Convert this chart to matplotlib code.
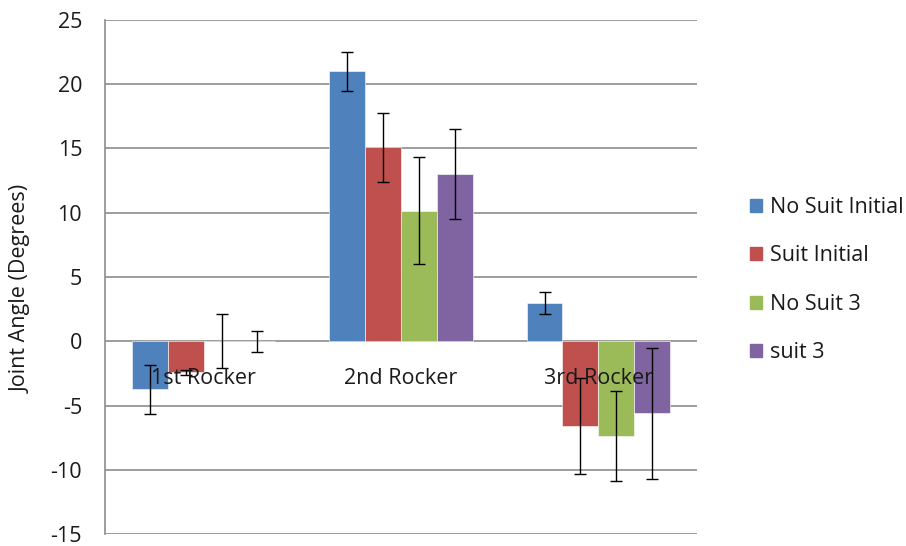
import matplotlib
matplotlib.use("Agg")
import matplotlib.pyplot as plt
import numpy as np

categories = ["1st Rocker", "2nd Rocker", "3rd Rocker"]
series_names = ["No Suit Initial", "Suit Initial", "No Suit 3", "suit 3"]
values = {
    "No Suit Initial": [-3.75, 21.0, 2.95],
    "Suit Initial": [-2.4, 15.1, -6.6],
    "No Suit 3": [0.0, 10.15, -7.35],
    "suit 3": [0.0, 13.0, -5.6],
}
errors = {
    "No Suit Initial": [1.9, 1.5, 0.85],
    "Suit Initial": [0.2, 2.7, 3.75],
    "No Suit 3": [2.1, 4.15, 3.5],
    "suit 3": [0.8, 3.5, 5.1],
}
colors = ["#4F81BD", "#C0504D", "#9BBB59", "#8064A2"]
y_ticks = [-15, -10, -5, 0, 5, 10, 15, 20, 25]
y_label = "Joint Angle (Degrees)"

plt.rcParams['font.family'] = ['Open Sans', 'DejaVu Sans']
FS = 15.5
TXT = "#1a1a1a"

fig = plt.figure(figsize=(9.06, 5.46), dpi=100)
ax = fig.add_axes([105/906, 1-534/546, (697-105)/906, (534-20)/546])

n = len(series_names)
bw = 1.0 / (n + 1.5)
x = np.arange(len(categories))
for i, name in enumerate(series_names):
    pos = x + (i - (n - 1) / 2) * bw
    ax.bar(pos, values[name], width=bw, color=colors[i], label=name,
           edgecolor="white", linewidth=0.4, zorder=2)
    ax.errorbar(pos, values[name], yerr=errors[name], fmt="none",
                ecolor="black", elinewidth=1.0, capsize=4.5, capthick=1.0, zorder=3)

ax.set_xlim(-0.5, len(categories) - 0.5)
ax.set_ylim(-15, 25)
ax.set_yticks(y_ticks)
ax.set_yticklabels([str(t) for t in y_ticks], fontsize=FS, color=TXT)
ax.tick_params(axis="y", length=0, pad=16.5)
ax.set_xticks([])
ax.yaxis.grid(True, color="#8C8C8C", linewidth=1.2, zorder=0)
ax.set_axisbelow(True)
for s in ["top", "right", "bottom"]:
    ax.spines[s].set_visible(False)
ax.spines["left"].set_color("#8C8C8C")
ax.spines["left"].set_linewidth(1.2)

for xi, cat in zip(x, categories):
    ax.annotate(cat, xy=(xi, 0), xytext=(0, -31), textcoords="offset points",
                ha="center", va="baseline", fontsize=FS, color=TXT, zorder=4)

fig.text(21/906, 1-289/546, y_label, rotation=90, ha="center", va="center",
         fontsize=FS, color=TXT)

handles = [plt.Rectangle((0, 0), 1, 1, color=c) for c in colors]
fig.legend(handles, series_names, loc="center left", bbox_to_anchor=(731/906, 1-280/546),
           frameon=False, fontsize=FS, handlelength=0.55, handleheight=0.55,
           handletextpad=0.37, labelspacing=1.28, labelcolor=TXT)

fig.savefig("out.png", dpi=100)
